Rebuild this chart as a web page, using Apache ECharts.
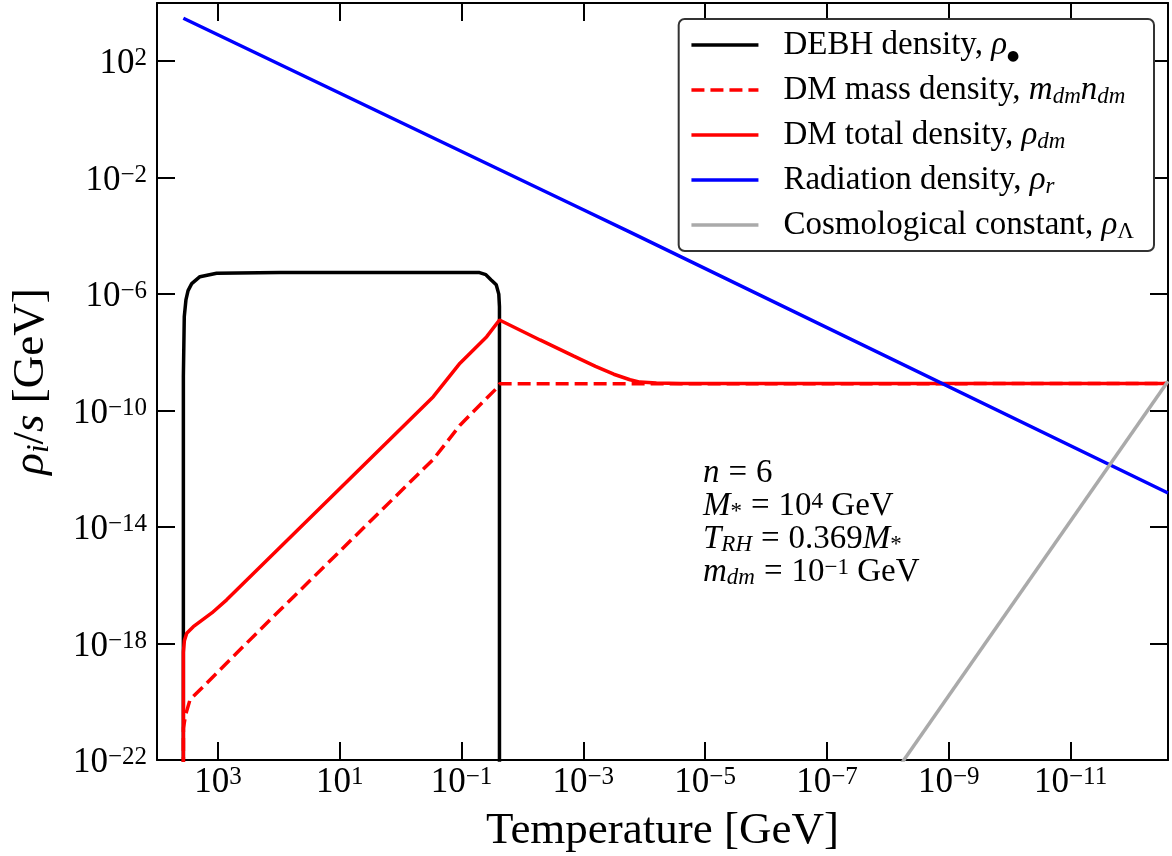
<!DOCTYPE html>
<html><head><meta charset="utf-8">
<script src="https://cdn.jsdelivr.net/npm/echarts@6/dist/echarts.min.js"></script>
<style>html,body{margin:0;padding:0;background:#fff}#c{width:1172px;height:856px}</style>
</head><body><div id="c"></div>
<script>
// Axis ticks (log10 exponents)
const xTicks = [3, 1, -1, -3, -5, -7, -9, -11];
const yTicks = [2, -2, -6, -10, -14, -18, -22];
// Series: [log10 T/GeV, log10 (rho/s)/GeV]
const debh = [[3.567,-23],[3.567,-8.83],[3.552,-6.77],[3.525,-6.2],[3.49,-5.88],[3.43,-5.64],[3.295,-5.40],[3.021,-5.28],[1.98,-5.26],[-1.295,-5.26],[-1.40,-5.33],[-1.487,-5.51],[-1.57,-5.68],[-1.612,-6.0],[-1.623,-6.43],[-1.623,-23]];
const dmMass = [[3.567,-23],[3.566,-20.9],[3.53,-20.45],[3.458,-19.93],[3.184,-19.36],[2.31,-17.53],[-0.537,-11.67],[-0.975,-10.50],[-1.577,-9.23],[-1.623,-9.08],[-12.6,-9.07]];
const dmTotal = [[3.567,-23],[3.567,-18.3],[3.55,-17.9],[3.512,-17.645],[3.404,-17.42],[3.1,-16.95],[2.856,-16.50],[-0.537,-9.52],[-0.975,-8.37],[-1.414,-7.46],[-1.623,-6.886],[-2.289,-7.573],[-2.836,-8.12],[-3.2,-8.48],[-3.5,-8.75],[-3.767,-8.94],[-3.931,-9.02],[-4.2,-9.055],[-4.6,-9.068],[-12.6,-9.07]];
const radiation = [[3.567,3.475],[-3.0,-3.10],[-3.767,-3.87],[-12.6,-12.83]];
const cosmo = [[-7.93,-23],[-12.6,-8.99]];

const names = ['DEBH density, ρ•', 'DM mass density, m_dm n_dm', 'DM total density, ρ_dm', 'Radiation density, ρ_r', 'Cosmological constant, ρ_Λ'];
const legendRich = {
  'DEBH density, ρ•': 'DEBH density, {i|ρ}{dot|●}',
  'DM mass density, m_dm n_dm': 'DM mass density, {i|m}{sub|dm}{i|n}{sub|dm}',
  'DM total density, ρ_dm': 'DM total density, {i|ρ}{sub|dm}',
  'Radiation density, ρ_r': 'Radiation density, {i|ρ}{sub|r}',
  'Cosmological constant, ρ_Λ': 'Cosmological constant, {i|ρ}{subn|Λ}'
};

const FF = "'Liberation Serif', 'DejaVu Serif', serif";
const fmtExp = v => '{b|10}{s|' + (v < 0 ? '\u2212' + (-v) : String(v)) + '}';
const tickRich = {
  b: {fontSize: 35, lineHeight: 36, fontFamily: FF, color: '#000'},
  s: {fontSize: 25, lineHeight: 24, verticalAlign: 'top', fontFamily: FF, color: '#000'}
};
const tickStyle = {inside: true, length: 18, lineStyle: {color: '#000', width: 2}};
const lineStyleAxis = {show: true, onZero: false, lineStyle: {color: '#000', width: 2}};
const LW = 3.5;

const chart = echarts.init(document.getElementById('c'));
chart.setOption({
  animation: false,
  backgroundColor: '#fff',
  grid: {left: 157, right: 4, top: 3, bottom: 96, outerBoundsMode: 'none'},
  xAxis: [{
    type: 'value', min: -12.6, max: 4, inverse: true, position: 'bottom',
    axisLine: lineStyleAxis,
    axisTick: Object.assign({customValues: xTicks}, tickStyle),
    axisLabel: {customValues: xTicks, formatter: fmtExp, rich: tickRich, margin: 5, showMinLabel: true, showMaxLabel: true},
    splitLine: {show: false},
    name: 'Temperature [GeV]', nameLocation: 'middle', nameGap: 49,
    nameTextStyle: {fontSize: 45, lineHeight: 45, fontFamily: FF, color: '#000'}
  }, {
    type: 'value', min: -12.6, max: 4, inverse: true, position: 'top',
    axisLine: lineStyleAxis,
    axisTick: Object.assign({customValues: xTicks}, tickStyle),
    axisLabel: {show: false}, splitLine: {show: false}
  }],
  yAxis: [{
    type: 'value', min: -22, max: 4, position: 'left',
    axisLine: lineStyleAxis,
    axisTick: Object.assign({customValues: yTicks}, tickStyle),
    axisLabel: {customValues: yTicks, formatter: fmtExp, rich: tickRich, margin: 10, padding: [6,0,0,0], showMinLabel: true, showMaxLabel: true},
    splitLine: {show: false},
    name: '{i|ρ}{sub|i}{n|/}{i|s}{n| [GeV]}', nameLocation: 'middle', nameGap: 102,
    nameTextStyle: {
      fontSize: 45, fontFamily: FF, color: '#000', lineHeight: 48,
      rich: {
        i: {fontSize: 45, fontStyle: 'italic', fontFamily: FF, lineHeight: 48},
        n: {fontSize: 45, fontFamily: FF, lineHeight: 48},
        sub: {fontSize: 31, fontStyle: 'italic', fontFamily: FF, lineHeight: 22, verticalAlign: 'bottom'}
      }
    }
  }, {
    type: 'value', min: -22, max: 4, position: 'right',
    axisLine: lineStyleAxis,
    axisTick: Object.assign({customValues: yTicks}, tickStyle),
    axisLabel: {show: false}, splitLine: {show: false}
  }],
  legend: {
    orient: 'vertical', right: 18, top: 19, data: names, selectedMode: false,
    itemWidth: 67, itemHeight: 14, itemGap: 9,
    padding: [8, 20, 8, 11],
    borderColor: '#333', borderWidth: 2, borderRadius: 6, backgroundColor: '#fff',
    itemStyle: {opacity: 0},
    lineStyle: {width: LW},
    formatter: n => legendRich[n],
    textStyle: {
      fontSize: 33, fontFamily: FF, color: '#000', lineHeight: 36, padding: [0,0,0,20],
      rich: {
        i: {fontSize: 33, fontStyle: 'italic', fontFamily: FF, lineHeight: 36},
        sub: {fontSize: 23, fontStyle: 'italic', fontFamily: FF, lineHeight: 16, verticalAlign: 'bottom'},
        subn: {fontSize: 23, fontFamily: FF, lineHeight: 16, verticalAlign: 'bottom'},
        dot: {fontSize: 14, fontFamily: "'DejaVu Sans', sans-serif", lineHeight: 20, verticalAlign: 'bottom'}
      }
    }
  },
  graphic: [{
    type: 'text', left: 703, top: 457, z: 100,
    style: {
      text: '{i|n}{eq|=}{n|6}\n{i|M}{subn|*}{eq|=}{n|10}{sup|4}{n| GeV}\n{i|T}{sub|RH}{eq|=}{n|0.369}{i|M}{subn|*}\n{i|m}{sub|dm}{eq|=}{n|10}{sup|\u22121}{n| GeV}',
      fill: '#000', fontSize: 33, fontFamily: FF, lineHeight: 33,
      rich: {
        n: {fontSize: 33, fontFamily: FF, lineHeight: 33},
        eq: {fontSize: 33, fontFamily: FF, lineHeight: 33, padding: [0, 9, 0, 9]},
        i: {fontSize: 33, fontStyle: 'italic', fontFamily: FF, lineHeight: 33},
        sub: {fontSize: 23, fontStyle: 'italic', fontFamily: FF, lineHeight: 14, verticalAlign: 'bottom'},
        subn: {fontSize: 23, fontFamily: FF, lineHeight: 14, verticalAlign: 'bottom'},
        sup: {fontSize: 23, fontFamily: FF, lineHeight: 22, verticalAlign: 'top'}
      }
    }
  }],
  series: [
    {name: names[0], type: 'line', data: debh, symbol: 'none', lineStyle: {color: '#000', width: LW}, itemStyle: {color: '#000'}},
    {name: names[1], type: 'line', data: dmMass, symbol: 'none', lineStyle: {color: '#ff0000', width: LW, type: [13, 6]}, itemStyle: {color: '#ff0000'}},
    {name: names[2], type: 'line', data: dmTotal, symbol: 'none', lineStyle: {color: '#ff0000', width: LW}, itemStyle: {color: '#ff0000'}},
    {name: names[3], type: 'line', data: radiation, symbol: 'none', lineStyle: {color: '#0000ff', width: LW}, itemStyle: {color: '#0000ff'}},
    {name: names[4], type: 'line', data: cosmo, symbol: 'none', lineStyle: {color: '#aaaaaa', width: LW}, itemStyle: {color: '#aaaaaa'}}
  ]
});
</script></body></html>
